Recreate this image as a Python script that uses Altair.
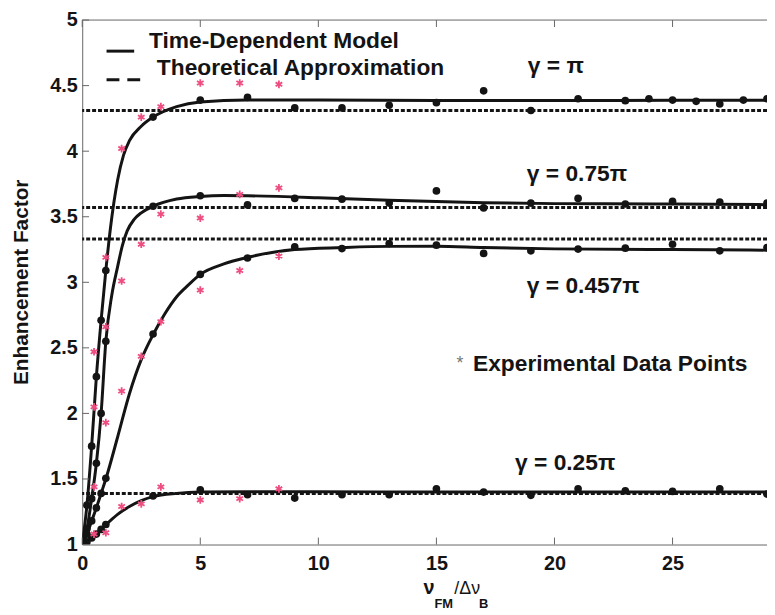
import altair as alt
import pandas as pd

FONT = "Liberation Sans"
INK = "#141414"
PINK = "#ee4d80"

SERIES = ["γ = π", "γ = 0.75π", "γ = 0.457π", "γ = 0.25π"]

# ---- Time-dependent model curves ----
pi_curve_x = [0, 0.2, 0.4, 0.6, 0.8, 1.0, 1.2, 1.5, 1.75, 2.0, 2.5, 3.0, 4.0, 5, 7, 10, 15, 20, 25, 29]
pi_curve_y = [1.0, 1.3, 1.75, 2.28, 2.71, 3.09, 3.42, 3.78, 3.97, 4.08, 4.19, 4.26, 4.34, 4.375, 4.39, 4.39, 4.386, 4.386, 4.388, 4.388]

p75_curve_x = [0, 0.2, 0.4, 0.6, 0.8, 1.0, 1.25, 1.5, 1.7, 1.9, 2.2, 2.5, 3.0, 4.0, 5, 6, 7, 10, 13, 17, 20, 25, 29]
p75_curve_y = [1.0, 1.12, 1.35, 1.62, 2.0, 2.55, 2.9, 3.12, 3.28, 3.39, 3.48, 3.53, 3.58, 3.635, 3.655, 3.662, 3.66, 3.645, 3.625, 3.607, 3.60, 3.597, 3.592]

p457_curve_x = [0, 0.2, 0.4, 0.6, 0.8, 1.0, 1.5, 2.0, 2.5, 3.0, 3.5, 4.0, 4.5, 5, 6, 7, 9, 11, 13, 15, 17, 20, 25, 29]
p457_curve_y = [1.0, 1.08, 1.18, 1.28, 1.39, 1.5, 1.82, 2.15, 2.41, 2.60, 2.76, 2.89, 2.98, 3.06, 3.14, 3.19, 3.25, 3.265, 3.274, 3.275, 3.266, 3.255, 3.25, 3.245]

p25_curve_x = [0, 0.2, 0.4, 0.6, 0.8, 1.0, 1.5, 2.0, 2.5, 3.0, 4.0, 5, 7, 10, 15, 20, 25, 29]
p25_curve_y = [1.0, 1.02, 1.05, 1.08, 1.115, 1.15, 1.23, 1.29, 1.335, 1.365, 1.39, 1.40, 1.403, 1.403, 1.40, 1.40, 1.40, 1.40]

# ---- Model sample points (black dots) ----
pi_dot_x = [0, 0.2, 0.4, 0.6, 0.8, 1.0, 3, 5, 7, 9, 11, 13, 15, 17, 19, 21, 23, 24, 25, 26, 27, 28, 29]
pi_dot_y = [1.0, 1.3, 1.75, 2.28, 2.71, 3.09, 4.26, 4.39, 4.41, 4.33, 4.33, 4.35, 4.37, 4.46, 4.31, 4.40, 4.385, 4.40, 4.39, 4.38, 4.36, 4.39, 4.40]

p75_dot_x = [0, 0.2, 0.4, 0.6, 0.8, 1.0, 3, 5, 7, 9, 11, 13, 15, 17, 19, 21, 23, 25, 27, 29]
p75_dot_y = [1.0, 1.12, 1.35, 1.62, 2.0, 2.55, 3.58, 3.66, 3.59, 3.64, 3.634, 3.604, 3.697, 3.567, 3.604, 3.64, 3.597, 3.617, 3.612, 3.604]

p457_dot_x = [0, 0.2, 0.4, 0.6, 0.8, 1.0, 3, 5, 7, 9, 11, 13, 15, 17, 19, 21, 23, 25, 27, 29]
p457_dot_y = [1.0, 1.08, 1.18, 1.28, 1.39, 1.505, 2.606, 3.06, 3.185, 3.27, 3.257, 3.295, 3.283, 3.22, 3.24, 3.253, 3.26, 3.29, 3.24, 3.265]

p25_dot_x = [0, 0.2, 0.4, 0.6, 0.8, 1.0, 3, 5, 7, 9, 11, 13, 15, 17, 19, 21, 23, 25, 27, 29]
p25_dot_y = [1.0, 1.02, 1.05, 1.08, 1.115, 1.153, 1.37, 1.417, 1.38, 1.354, 1.38, 1.38, 1.425, 1.40, 1.375, 1.425, 1.41, 1.405, 1.425, 1.385]

# ---- Experimental data points (pink asterisks) ----
exp_x = [0.5, 1.0, 1.67, 2.5, 3.33, 5.0, 6.67, 8.33]
pi_exp_y = [2.47, 3.19, 4.02, 4.26, 4.34, 4.52, 4.52, 4.51]
p75_exp_y = [2.05, 2.66, 3.01, 3.29, 3.52, 3.49, 3.67, 3.72]
p457_exp_y = [1.44, 1.93, 2.17, 2.435, 2.70, 2.94, 3.09, 3.20]
p25_exp_y = [1.08, 1.09, 1.29, 1.31, 1.44, 1.34, 1.35, 1.425]

# ---- Theoretical approximation levels ----
theory_y = [4.31, 3.57, 3.33, 1.39]

x_ticks = [0, 5, 10, 15, 20, 25]
y_ticks = [1, 1.5, 2, 2.5, 3, 3.5, 4, 4.5, 5]

# ---- tables ----
curves = pd.concat([
    pd.DataFrame({"s": s, "x": cx, "y": cy, "o": range(len(cx))})
    for s, cx, cy in zip(SERIES,
                         [pi_curve_x, p75_curve_x, p457_curve_x, p25_curve_x],
                         [pi_curve_y, p75_curve_y, p457_curve_y, p25_curve_y])
])
dots = pd.concat([
    pd.DataFrame({"s": s, "x": dx, "y": dy})
    for s, dx, dy in zip(SERIES,
                         [pi_dot_x, p75_dot_x, p457_dot_x, p25_dot_x],
                         [pi_dot_y, p75_dot_y, p457_dot_y, p25_dot_y])
])
exps = pd.concat([
    pd.DataFrame({"s": s, "x": exp_x, "y": ey})
    for s, ey in zip(SERIES, [pi_exp_y, p75_exp_y, p457_exp_y, p25_exp_y])
])
theory = pd.DataFrame({"y": theory_y})

XS = alt.Scale(domain=[0, 29], nice=False, zero=False)
YS = alt.Scale(domain=[1, 5], nice=False, zero=False)

x_axis = alt.Axis(values=x_ticks, ticks=False, grid=False, title=None,
                  labelFont=FONT, labelFontSize=20, labelFontWeight="bold",
                  labelColor=INK, labelPadding=9, domainColor="#666",
                  labelFlush=False)
y_axis = alt.Axis(values=y_ticks, ticks=False, grid=False, title=None,
                  format="~g", labelFont=FONT, labelFontSize=20,
                  labelFontWeight="bold", labelColor=INK, labelPadding=5,
                  domainColor="#666", labelFlush=False)

base_lines = alt.Chart(curves).mark_line(color=INK, strokeWidth=3, clip=True,
                                         interpolate="monotone").encode(
    x=alt.X("x:Q", scale=XS, axis=x_axis),
    y=alt.Y("y:Q", scale=YS, axis=y_axis),
    detail="s:N",
    order="o:Q",
)

theory_lines = alt.Chart(theory).mark_rule(color=INK, strokeWidth=3, strokeDash=[4, 2]).encode(
    y=alt.Y("y:Q", scale=YS),
)

dot_layer = alt.Chart(dots).mark_circle(color=INK, size=60, opacity=1, clip=True).encode(
    x=alt.X("x:Q", scale=XS), y=alt.Y("y:Q", scale=YS)
)

ASTER = "M0,-1L0,1M-0.87,-0.5L0.87,0.5M-0.87,0.5L0.87,-0.5"
exp_layer = alt.Chart(exps).mark_point(shape=ASTER, filled=False, color=PINK,
                                       strokeWidth=1.8, size=60, opacity=1).encode(
    x=alt.X("x:Q", scale=XS), y=alt.Y("y:Q", scale=YS)
)

# frame: top border and inward ticks
tick_len_y = 0.053
tick_len_x = 0.29
xt = pd.DataFrame({"t": x_ticks})
yt = pd.DataFrame({"t": y_ticks})
top_border = alt.Chart(pd.DataFrame({"a": [0], "b": [29], "y": [5]})).mark_rule(color="#666", strokeWidth=1).encode(
    x=alt.X("a:Q", scale=XS), x2="b:Q", y=alt.Y("y:Q", scale=YS))
xticks_bottom = alt.Chart(xt).transform_calculate(y0="1", y1=f"1+{tick_len_y}").mark_rule(color="#666").encode(
    x=alt.X("t:Q", scale=XS), y=alt.Y("y0:Q", scale=YS), y2="y1:Q")
xticks_top = alt.Chart(xt).transform_calculate(y0="5", y1=f"5-{tick_len_y}").mark_rule(color="#666").encode(
    x=alt.X("t:Q", scale=XS), y=alt.Y("y0:Q", scale=YS), y2="y1:Q")
yticks_left = alt.Chart(yt).transform_calculate(x0="0", x1=f"{tick_len_x}").mark_rule(color="#666").encode(
    y=alt.Y("t:Q", scale=YS), x=alt.X("x0:Q", scale=XS), x2="x1:Q")

ONE = alt.Data(values=[{}])


def label(txt, x, y, size=23, align="left", color=INK, weight="bold"):
    return alt.Chart(ONE).mark_text(text=txt, align=align, baseline="alphabetic",
                                    font=FONT, fontSize=size, fontWeight=weight,
                                    color=color).encode(x=alt.datum(x), y=alt.datum(y))


def plabel(txt, px, py, size=20, align="left", angle=0, baseline="alphabetic", weight="bold"):
    return alt.Chart(ONE).mark_text(text=txt, align=align, baseline=baseline,
                                    font=FONT, fontSize=size, fontWeight=weight,
                                    angle=angle, color=INK).encode(
        x=alt.value(px), y=alt.value(py))


annotations = [
    label(SERIES[0], 18.87, 4.60),
    label(SERIES[1], 18.83, 3.77),
    label(SERIES[2], 18.83, 2.92),
    label(SERIES[3], 18.33, 1.566),
    label("*", 15.85, 2.34, size=18, color="#777", weight="normal"),
    label("Experimental Data Points", 16.55, 2.32),
    label("Time-Dependent Model", 2.83, 4.786),
    label("Theoretical Approximation", 3.16, 4.58),
]

legend_solid = alt.Chart(pd.DataFrame({"a": [1.03], "b": [2.2], "y": [4.763]})).mark_rule(
    color=INK, strokeWidth=3).encode(x=alt.X("a:Q", scale=XS), x2="b:Q", y=alt.Y("y:Q", scale=YS))
legend_dash = alt.Chart(pd.DataFrame({"a": [1.03], "b": [2.49], "y": [4.544]})).mark_rule(
    color=INK, strokeWidth=3, strokeDash=[13, 8]).encode(x=alt.X("a:Q", scale=XS), x2="b:Q", y=alt.Y("y:Q", scale=YS))

# axis titles (plot-area pixel coordinates)
titles = [
    plabel("Enhancement Factor", -61, 265, size=21, align="center", angle=270, baseline="middle"),
    plabel("ν", 345, 580, size=20),
    plabel("FM", 356, 594, size=13),
    plabel("/Δν", 376, 580, size=18, weight="normal"),
    plabel("B", 401, 594, size=13),
]

chart = alt.layer(
    theory_lines, base_lines, dot_layer, exp_layer,
    top_border, xticks_bottom, xticks_top, yticks_left,
    legend_solid, legend_dash, *annotations, *titles,
).properties(
    width=692, height=530,
    padding={"left": 75, "top": 9, "right": 0, "bottom": 66},
    autosize=alt.AutoSizeParams(type="none"),
    background="white",
).configure_view(stroke=None)

chart.save("out.html", embed_options={"renderer": "svg", "actions": False})
